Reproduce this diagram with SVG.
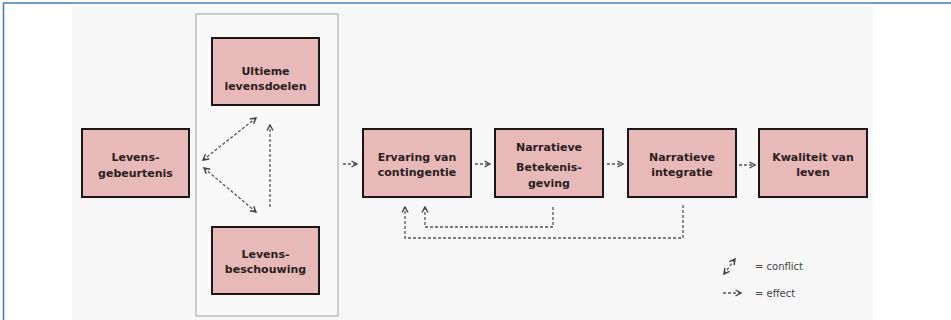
<svg xmlns="http://www.w3.org/2000/svg" width="951" height="320" viewBox="0 0 951 320">
<defs>
<marker id="ah" viewBox="0 0 8 8" refX="6.5" refY="4" markerWidth="8" markerHeight="8" markerUnits="userSpaceOnUse" orient="auto-start-reverse">
<path d="M1,1 L6.5,4 L1,7" fill="none" stroke="#444" stroke-width="1.4"/>
</marker>
<style>
.box{fill:#e8b9b9;stroke:#1c1717;stroke-width:2}
.t{font-family:"DejaVu Sans",Verdana,sans-serif;font-weight:bold;font-size:11px;fill:#2b2020;text-anchor:middle}
.d{fill:none;stroke:#555;stroke-width:1.3;stroke-dasharray:3 2}
.lg{font-family:"DejaVu Sans",Verdana,sans-serif;font-size:10px;fill:#444}
</style>
</defs>
<rect x="0" y="0" width="951" height="320" fill="#ffffff"/>
<rect x="72" y="7" width="801" height="313" fill="#f7f7f7"/>
<path d="M3.5,320 L3.5,3 L951,3" fill="none" stroke="#4a7fb8" stroke-width="1.6"/>
<rect id="group" x="196" y="14" width="142" height="302" fill="#f9f9f9" stroke="#b5b5b5" stroke-width="1.3"/>

<g id="n-gebeurtenis"><rect class="box" x="82" y="129" width="107" height="68"/><text class="t" x="135.5" y="161">Levens-</text><text class="t" x="135.5" y="177">gebeurtenis</text></g>
<g id="n-doelen"><rect class="box" x="212" y="38" width="107" height="67"/><text class="t" x="265.5" y="75">Ultieme</text><text class="t" x="265.5" y="90">levensdoelen</text></g>
<g id="n-beschouwing"><rect class="box" x="212" y="227" width="107" height="67"/><text class="t" x="265.5" y="258">Levens-</text><text class="t" x="265.5" y="273">beschouwing</text></g>
<g id="n-ervaring"><rect class="box" x="363" y="129" width="108" height="68"/><text class="t" x="417" y="161">Ervaring van</text><text class="t" x="417" y="176">contingentie</text></g>
<g id="n-betekenis"><rect class="box" x="495" y="129" width="108" height="68"/><text class="t" x="549" y="151">Narratieve</text><text class="t" x="549" y="171">Betekenis-</text><text class="t" x="549" y="187">geving</text></g>
<g id="n-integratie"><rect class="box" x="628" y="129" width="108" height="68"/><text class="t" x="682" y="161">Narratieve</text><text class="t" x="682" y="176">integratie</text></g>
<g id="n-kwaliteit"><rect class="box" x="759" y="129" width="108" height="68"/><text class="t" x="813" y="161">Kwaliteit van</text><text class="t" x="813" y="176">leven</text></g>

<g id="connectors">
<line class="d" x1="203" y1="160" x2="256" y2="118" marker-start="url(#ah)" marker-end="url(#ah)"/>
<line class="d" x1="204" y1="168" x2="256" y2="212" marker-start="url(#ah)" marker-end="url(#ah)"/>
<line class="d" x1="270" y1="207" x2="270" y2="125" marker-end="url(#ah)"/>
<line class="d" x1="343" y1="164" x2="357" y2="164" marker-end="url(#ah)"/>
<line class="d" x1="475" y1="164" x2="490" y2="164" marker-end="url(#ah)"/>
<line class="d" x1="607" y1="164" x2="623" y2="164" marker-end="url(#ah)"/>
<line class="d" x1="739" y1="165" x2="755" y2="165" marker-end="url(#ah)"/>
<path class="d" d="M553,207 L553,227 L425,227 L425,207" marker-end="url(#ah)"/>
<path class="d" d="M683,205 L683,238 L405,238 L405,207" marker-end="url(#ah)"/>
</g>

<g id="legend">
<line class="d" x1="724" y1="274" x2="735" y2="259" marker-start="url(#ah)" marker-end="url(#ah)"/>
<text class="lg" x="755" y="270">= conflict</text>
<line class="d" x1="723" y1="293" x2="741" y2="293" marker-end="url(#ah)"/>
<text class="lg" x="755" y="297">= effect</text>
</g>
</svg>
